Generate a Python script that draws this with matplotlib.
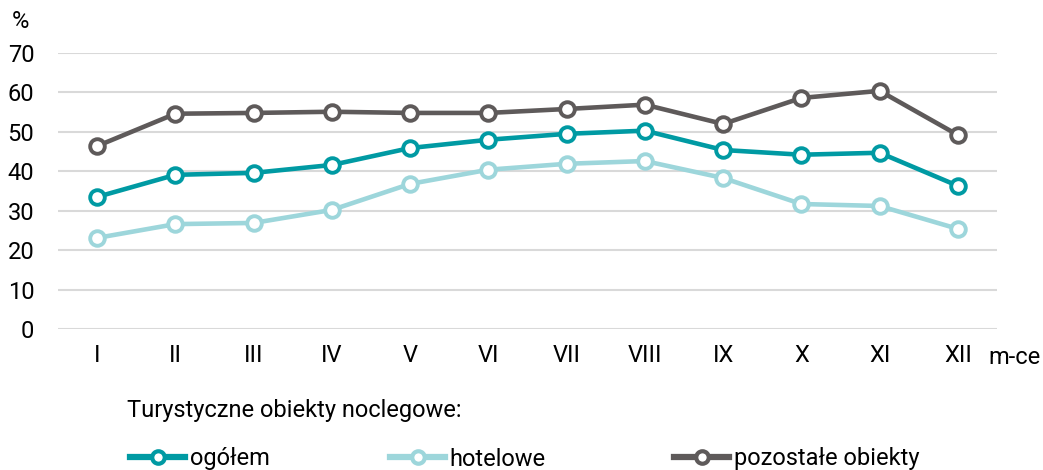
import matplotlib.pyplot as plt
from matplotlib.lines import Line2D

months = ["I", "II", "III", "IV", "V", "VI", "VII", "VIII", "IX", "X", "XI", "XII"]
ogolem = [33.5, 39.1, 39.6, 41.6, 45.9, 48.0, 49.5, 50.3, 45.4, 44.2, 44.7, 36.3]
hotelowe = [23.1, 26.6, 26.9, 30.2, 36.8, 40.4, 41.9, 42.6, 38.3, 31.7, 31.2, 25.4]
pozostale = [46.4, 54.6, 54.8, 55.1, 54.8, 54.8, 55.8, 56.9, 52.0, 58.6, 60.4, 49.2]
yticks = [0, 10, 20, 30, 40, 50, 60, 70]

c_ogolem = "#009aa3"
c_hotel = "#9dd6db"
c_pozost = "#5e5a5a"

plt.rcParams['font.family'] = ['Roboto', 'DejaVu Sans']
FS = 17

fig = plt.figure(figsize=(10.43, 4.70), dpi=100)
ax = fig.add_axes([58 / 1043, 1 - 329 / 470, (997 - 58) / 1043, (329 - 53) / 470])

x = list(range(len(months)))
series = [(ogolem, c_ogolem, "ogółem"), (hotelowe, c_hotel, "hotelowe"),
          (pozostale, c_pozost, "pozostałe obiekty")]
for vals, col, lab in series:
    ax.plot(x, vals, color=col, lw=3.3, marker='o', ms=10.5,
            mfc='white', mec=col, mew=2.8, label=lab, clip_on=False, zorder=3)

ax.set_xlim(-0.5, 11.5)
ax.set_ylim(0, 70)
ax.set_yticks(yticks)
ax.set_xticks(x)
ax.set_xticklabels(months)
ax.grid(axis='y', color='#d9d9d9', lw=1.5)
ax.set_axisbelow(True)
for s in ax.spines.values():
    s.set_visible(False)
ax.tick_params(length=0, colors='black', labelsize=FS)
ax.tick_params(axis='y', pad=17)
ax.tick_params(axis='x', pad=11)

fig.text(12 / 1043, 1 - 21 / 470, "%", fontsize=FS, va='center', ha='left')
fig.text(988 / 1043, 1 - 358 / 470, "m-ce", fontsize=FS, va='center', ha='left')
fig.text(127 / 1043, 1 - 411 / 470, "Turystyczne obiekty noclegowe:", fontsize=FS,
         va='center', ha='left')

for (vals, col, lab), xpos in zip(series, [130, 390, 674]):
    h = Line2D([], [], color=col, lw=4.5, marker='o', ms=9, mfc='white', mec=col, mew=3)
    fig.legend(handles=[h], labels=[lab], loc='center left',
               bbox_to_anchor=(xpos / 1043, 1 - 459 / 470),
               frameon=False, borderpad=0, borderaxespad=0, handlelength=2.33,
               handletextpad=0.2, fontsize=FS)

fig.savefig("out.png", dpi=100)
